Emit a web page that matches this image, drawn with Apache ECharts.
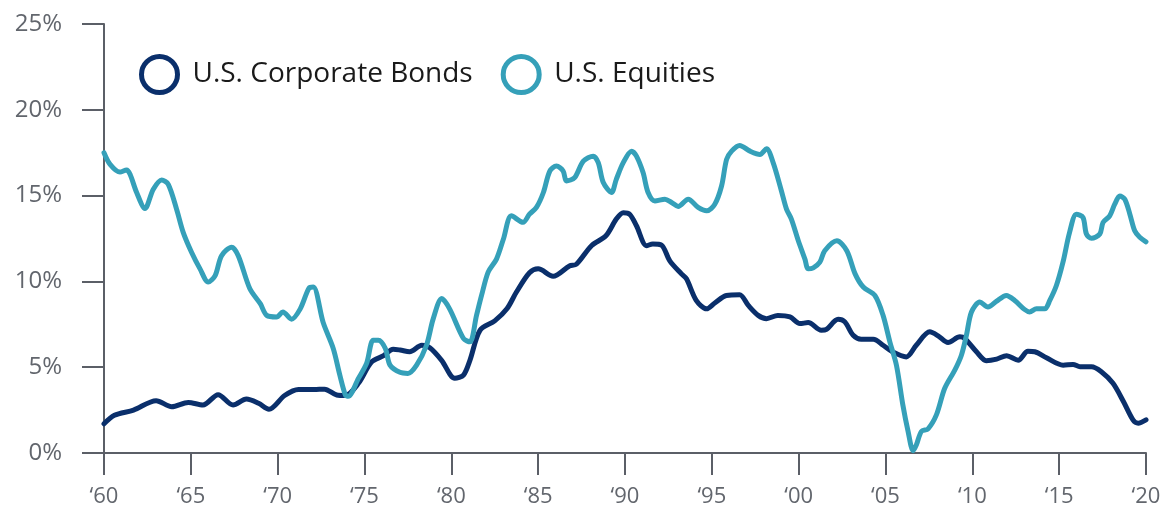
<!DOCTYPE html>
<html>
<head>
<meta charset="utf-8">
<script src="https://cdn.jsdelivr.net/npm/echarts@6/dist/echarts.min.js"></script>
<style>
  html, body { margin: 0; padding: 0; background: #fff; }
  #chart { width: 1164px; height: 508px; }
</style>
</head>
<body>
<div id="chart"></div>
<script>
// data (year, % value)
var bondYears = [1960.0, 1960.6, 1961.7, 1963.0, 1963.9, 1964.85, 1965.7, 1966.57, 1967.43, 1968.2, 1968.9, 1969.5,
  1970.4, 1971.2, 1972.1, 1972.7, 1973.4, 1973.9, 1974.65, 1975.4, 1976.1, 1976.65, 1977.05, 1977.6, 1978.3, 1978.76,
  1979.44, 1980.2, 1980.7, 1981.07, 1981.65, 1982.5, 1983.2, 1983.75, 1984.5, 1985.0, 1985.86, 1986.8, 1987.2, 1988.07,
  1988.9, 1989.5, 1989.9, 1990.28, 1990.66, 1991.24, 1991.6, 1992.1, 1992.58, 1993.25, 1993.54, 1994.1, 1994.7, 1995.17,
  1995.84, 1996.6, 1997.1, 1997.67, 1998.15, 1998.8, 1999.5, 2000.07, 2000.55, 2001.3, 2001.6, 2002.27, 2002.66, 2003.14,
  2003.6, 2004.3, 2004.86, 2005.4, 2006.2, 2006.77, 2007.55, 2008.03, 2008.6, 2009.28, 2009.57, 2010.24, 2010.8, 2011.4,
  2011.97, 2012.64, 2013.2, 2013.6, 2014.27, 2015.23, 2015.8, 2016.2, 2016.86, 2017.43, 2018.1, 2018.7, 2019.25, 2019.55, 2020.0];
var bondValues = [1.7, 2.2, 2.5, 3.05, 2.7, 2.95, 2.8, 3.4, 2.8, 3.15, 2.9, 2.55,
  3.35, 3.7, 3.7, 3.72, 3.38, 3.35, 4.06, 5.3, 5.67, 6.05, 6.0, 5.9, 6.28, 6.13,
  5.4, 4.35, 4.54, 5.4, 7.15, 7.7, 8.4, 9.38, 10.5, 10.73, 10.3, 10.9, 11.0, 12.08,
  12.66, 13.63, 14.0, 13.9, 13.24, 12.08, 12.18, 12.12, 11.2, 10.44, 10.15, 8.9, 8.4, 8.74,
  9.18, 9.22, 8.6, 8.02, 7.83, 8.02, 7.93, 7.54, 7.6, 7.15, 7.2, 7.79, 7.64, 6.86,
  6.63, 6.63, 6.28, 5.9, 5.6, 6.28, 7.06, 6.83, 6.44, 6.77, 6.67, 5.9, 5.38, 5.47,
  5.67, 5.41, 5.93, 5.9, 5.55, 5.12, 5.16, 5.03, 5.03, 4.74, 4.06, 3.0, 1.93, 1.74, 1.93];

var equityYears = [1960.0, 1960.35, 1960.92, 1961.3, 1961.5, 1961.88, 1962.36, 1962.84, 1963.32, 1963.7, 1964.18, 1964.56,
  1965.04, 1965.53, 1966.0, 1966.4, 1966.77, 1967.35, 1967.73, 1968.4, 1969.0, 1969.37, 1969.94, 1970.3, 1970.8, 1971.3,
  1971.8, 1972.05, 1972.62, 1973.2, 1973.58, 1973.9, 1974.06, 1974.65, 1975.12, 1975.5, 1975.8, 1976.2, 1976.47, 1977.04,
  1977.5, 1978.0, 1978.57, 1978.96, 1979.45, 1979.9, 1980.7, 1981.07, 1981.45, 1981.74, 1982.12, 1982.6, 1983.0, 1983.46,
  1984.13, 1984.5, 1984.9, 1985.3, 1985.67, 1986.05, 1986.44, 1986.63, 1987.1, 1987.6, 1988.17, 1988.46, 1988.75, 1989.22,
  1989.5, 1989.9, 1990.38, 1990.66, 1991.04, 1991.33, 1991.72, 1992.3, 1992.68, 1993.06, 1993.64, 1994.21, 1994.7, 1995.17,
  1995.56, 1995.85, 1996.14, 1996.6, 1997.2, 1997.77, 1998.15, 1998.53, 1999.0, 1999.3, 1999.58, 1999.97, 2000.36, 2000.55,
  2000.84, 2001.22, 2001.5, 2002.2, 2002.77, 2003.25, 2003.72, 2004.39, 2004.86, 2005.25, 2005.63, 2006.0, 2006.3, 2006.59,
  2006.78, 2007.07, 2007.45, 2007.93, 2008.41, 2008.99, 2009.37, 2009.66, 2009.95, 2010.43, 2010.9, 2011.38, 2011.96,
  2012.44, 2013.0, 2013.3, 2013.69, 2014.17, 2014.46, 2014.84, 2015.22, 2015.6, 2015.99, 2016.37, 2016.57, 2016.86, 2017.34,
  2017.53, 2017.91, 2018.2, 2018.49, 2018.78, 2019.07, 2019.35, 2019.64, 2020.0];
var equityValues = [17.5, 16.82, 16.37, 16.49, 16.24, 15.18, 14.25, 15.37, 15.91, 15.66, 14.21, 12.86,
  11.7, 10.73, 9.96, 10.34, 11.5, 11.99, 11.5, 9.57, 8.7, 8.02, 7.93, 8.22, 7.8, 8.4,
  9.6, 9.67, 7.6, 6.09, 4.54, 3.38, 3.3, 4.35, 5.22, 6.57, 6.57, 6.09, 5.12, 4.7,
  4.64, 5.12, 6.28, 7.83, 9.0, 8.4, 6.67, 6.48, 8.02, 9.18, 10.54, 11.3, 12.47, 13.82,
  13.44, 13.92, 14.31, 15.18, 16.43, 16.72, 16.43, 15.85, 16.05, 17.01, 17.3, 16.92, 15.76, 15.18,
  15.95, 16.92, 17.59, 17.3, 16.34, 15.18, 14.69, 14.79, 14.6, 14.37, 14.79, 14.31, 14.11, 14.5,
  15.56, 17.11, 17.59, 17.92, 17.59, 17.4, 17.73, 16.92, 15.3, 14.21, 13.63, 12.4, 11.3, 10.73,
  10.79, 11.12, 11.79, 12.37, 11.79, 10.44, 9.67, 9.18, 8.02, 6.48, 5.12, 2.8, 1.26, 0.13,
  0.48, 1.26, 1.41, 2.22, 3.77, 4.83, 5.7, 6.86, 8.22, 8.8, 8.51, 8.83, 9.18,
  8.89, 8.37, 8.22, 8.4, 8.4, 8.89, 9.76, 11.12, 12.86, 13.92, 13.73, 12.76, 12.51, 12.76,
  13.44, 13.82, 14.5, 14.98, 14.79, 13.92, 12.95, 12.57, 12.31];

var yTicks = [0, 5, 10, 15, 20, 25];

function pairs(xs, ys) {
  var out = [];
  for (var i = 0; i < xs.length; i++) out.push([xs[i], ys[i]]);
  return out;
}

var navy = '#0a2f6b';
var teal = '#35a0b9';
var axisColor = '#5b5f67';
var labelColor = '#62666d';

var myChart = echarts.init(document.getElementById('chart'));

var option = {
  animation: false,
  backgroundColor: '#fff',
  textStyle: { fontFamily: '"Open Sans", sans-serif' },
  grid: { left: 104, right: 18, top: 24, bottom: 53 },
  legend: {
    left: 134,
    top: 49,
    icon: 'circle',
    itemWidth: 36,
    itemHeight: 36,
    itemGap: 28,
    data: [
      { name: 'U.S. Corporate Bonds', itemStyle: { color: '#fff', borderColor: navy, borderWidth: 5 } },
      { name: 'U.S. Equities', itemStyle: { color: '#fff', borderColor: teal, borderWidth: 5 } }
    ],
    textStyle: { fontSize: 28, color: '#1a1a1a', padding: [0, 0, 0, 10] }
  },
  xAxis: {
    type: 'value',
    min: 1960,
    max: 2020,
    interval: 5,
    splitLine: { show: false },
    axisLine: { lineStyle: { color: axisColor, width: 2 } },
    axisTick: { length: 22, lineStyle: { color: axisColor, width: 2 } },
    axisLabel: {
      color: labelColor,
      fontSize: 22,
      margin: 33,
      formatter: function (v) { return '\u2018' + String(v).slice(2); }
    }
  },
  yAxis: {
    type: 'value',
    min: yTicks[0],
    max: yTicks[yTicks.length - 1],
    interval: 5,
    splitLine: { show: false },
    axisLine: { show: true, lineStyle: { color: axisColor, width: 2 } },
    axisTick: { show: true, length: 22, lineStyle: { color: axisColor, width: 2 } },
    axisLabel: { color: labelColor, fontSize: 24, margin: 42, formatter: '{value}%' }
  },
  series: [
    {
      name: 'U.S. Corporate Bonds',
      type: 'line',
      data: pairs(bondYears, bondValues),
      showSymbol: false,
      smooth: 0.3,
      color: navy,
      lineStyle: { color: navy, width: 5, cap: 'round', join: 'round' }
    },
    {
      name: 'U.S. Equities',
      type: 'line',
      data: pairs(equityYears, equityValues),
      showSymbol: false,
      smooth: 0.3,
      color: teal,
      lineStyle: { color: teal, width: 5, cap: 'round', join: 'round' }
    }
  ]
};

myChart.setOption(option);
</script>
</body>
</html>
